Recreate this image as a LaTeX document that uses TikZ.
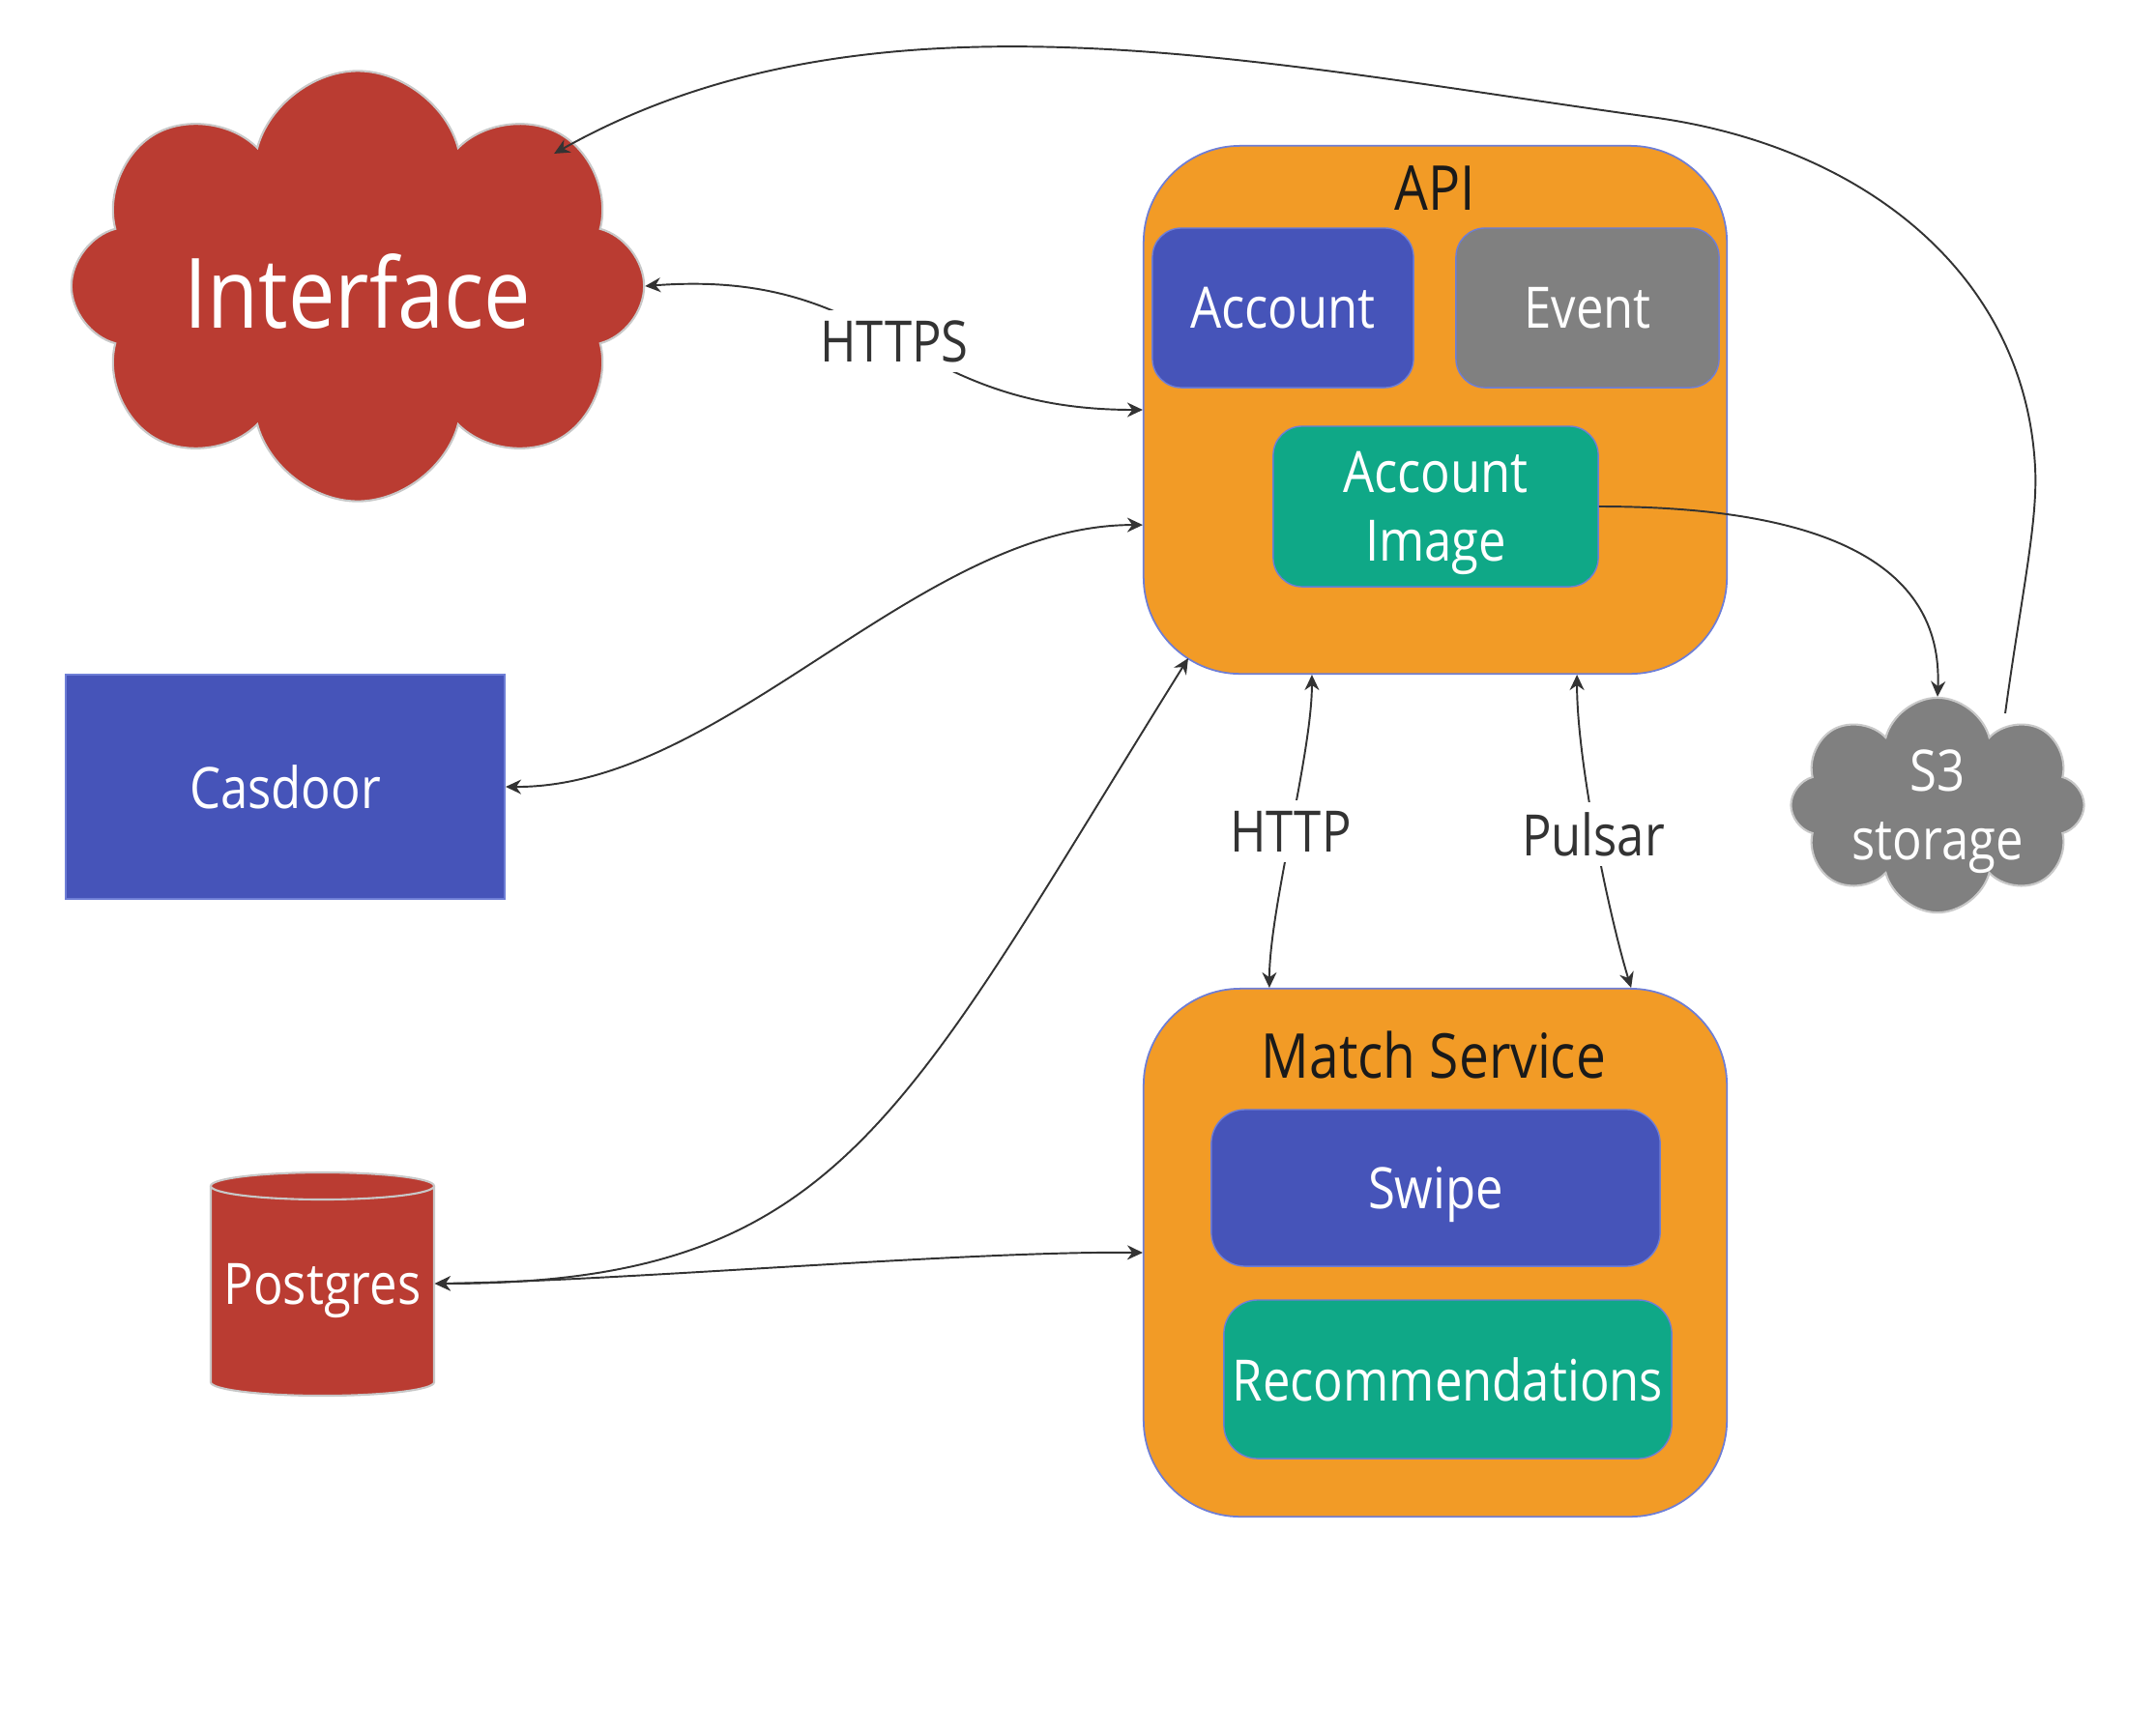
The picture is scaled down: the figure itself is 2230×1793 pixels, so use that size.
\documentclass[tikz,border=0pt]{standalone}
\usepackage{fontspec}
\setmainfont{Open Sans}[FakeStretch=0.86]
\usetikzlibrary{shapes.symbols,arrows.meta}
\definecolor{ifred}{HTML}{BA3C32}
\definecolor{cblue}{HTML}{4654B9}
\definecolor{cgrey}{HTML}{808080}
\definecolor{cteal}{HTML}{0FA887}
\definecolor{corange}{HTML}{F29B26}
\definecolor{cedge}{HTML}{6E7ED6}
\definecolor{cloudedge}{HTML}{C8C8C8}
\definecolor{linec}{HTML}{333333}
\definecolor{titlec}{HTML}{1A1A1A}
\begin{document}
\begin{tikzpicture}[x=0.01cm,y=-0.01cm,
  svc/.style={draw=cedge, line width=0.5pt, fill=corange, rounded corners=1cm, minimum width=6.03cm, minimum height=5.46cm, inner sep=0pt},
  sub/.style={draw=cedge, line width=0.4pt, rounded corners=0.3cm, text=white, font=\fontsize{16.8}{20.2}\selectfont, inner sep=0pt, align=center},
  ttl/.style={text=titlec, font=\fontsize{18.2}{22}\selectfont, inner sep=0pt},
  lbl/.style={fill=white, text=linec, font=\fontsize{16.8}{20.2}\selectfont, inner sep=3pt},
  conn/.style={draw=linec, line width=0.55pt},
  tip/.tip={Stealth[length=1.6mm,width=1.5mm]},
  arr/.style={conn, tip-tip},
  arrend/.style={conn, -tip},
  cld/.style={cloud, cloud puffs=8, cloud ignores aspect, draw=cloudedge, line width=0.6pt, text=white, inner sep=0pt, align=center}
]
\useasboundingbox (0,0) rectangle (2230,1793);
\fill[white] (0,0) rectangle (2230,1793);

% Interface cloud
\node[cld, fill=ifred, minimum width=5.92cm, minimum height=4.45cm, font=\fontsize{28.6}{34}\selectfont] (ifc) at (370,296) {\raisebox{-1.5pt}[\height][\depth]{Interface}};

% Casdoor
\node[draw=cedge, line width=0.5pt, fill=cblue, minimum width=4.54cm, minimum height=2.32cm, text=white, font=\fontsize{16.8}{20.2}\selectfont] (cas) at (295,814) {Casdoor};

% Postgres cylinder
\fill[ifred] (218,1227) rectangle (449,1430);
\fill[ifred] (333.5,1430) ellipse [x radius=115.5, y radius=14];
\draw[cloudedge, line width=0.6pt] (218,1227) -- (218,1430) arc[start angle=180, end angle=0, x radius=115.5, y radius=14] -- (449,1227);
\filldraw[fill=ifred, draw=cloudedge, line width=0.6pt] (333.5,1227) ellipse [x radius=115.5, y radius=14];
\node[text=white, font=\fontsize{16.8}{20.2}\selectfont, minimum width=2.31cm, minimum height=2.31cm, inner sep=0pt, text depth=0pt] (pg) at (333.5,1328) {Postgres};

% API
\node[svc] (api) at (1484.5,424) {};
\node[ttl] (apit) at (1484,195) {API};
\node[sub, fill=cblue, minimum width=2.70cm, minimum height=1.65cm] (acc) at (1327,318.5) {Account};
\node[sub, fill=cgrey, minimum width=2.72cm, minimum height=1.65cm] (evt) at (1642,318.5) {Event};
\node[sub, fill=cteal, minimum width=3.36cm, minimum height=1.66cm, text depth=0pt] (aimg) at (1485,524) {Account\\Image};

% Match Service
\node[svc] (ms) at (1484.5,1296) {};
\node[ttl] (mst) at (1483,1091) {Match Service};
\node[sub, fill=cblue, rounded corners=0.35cm, minimum width=4.64cm, minimum height=1.62cm, text depth=0pt] (swp) at (1485,1229) {Swipe};
\node[sub, fill=cteal, rounded corners=0.35cm, minimum width=4.63cm, minimum height=1.64cm] (rec) at (1497.5,1427) {Recommendations};

% S3
\node[cld, fill=cgrey, minimum width=3.03cm, minimum height=2.12cm, font=\fontsize{16.8}{20.2}\selectfont, text depth=0pt] (s3) at (2004,833) {S3\\storage};

% connectors
\draw[arr] (ifc.east) .. controls (917,277) and (933,424) .. (api.west);
\draw[arr] (cas.east) .. controls (750,815) and (950,543) .. ([yshift=-1.19cm]api.west);
\draw[arr] (pg.east) .. controls (870,1328) and (930,1160) .. ([xshift=0.47cm,yshift=0.17cm]api.south west);
\draw[arr] (pg.east) .. controls (650,1325) and (1000,1294) .. (ms.west);
\draw[arr] ([xshift=-1.275cm]api.south) .. controls (1357,780) and (1313,940) .. ([xshift=-1.715cm]ms.north);
\draw[arr] ([xshift=1.465cm]api.south) .. controls (1631,790) and (1665,950) .. ([xshift=2.025cm]ms.north);
\draw[arrend] (aimg.east) .. controls (1880,524) and (2010,580) .. (s3.north);
\draw[arrend] ([xshift=0.70cm,yshift=0.95cm]s3.center) .. controls (2090,620) and (2108,540) .. (2105,484)
   .. controls (2095,284) and (1927,150) .. (1707,121)
   .. controls (1300,65) and (900,-25) .. ([xshift=2.03cm,yshift=1.37cm]ifc.center);

% labels
\node[lbl] (https) at (925,353) {HTTPS};
\node[lbl] (http) at (1335,860) {HTTP};
\node[lbl] (pulsar) at (1648,863) {Pulsar};
\end{tikzpicture}
\end{document}
